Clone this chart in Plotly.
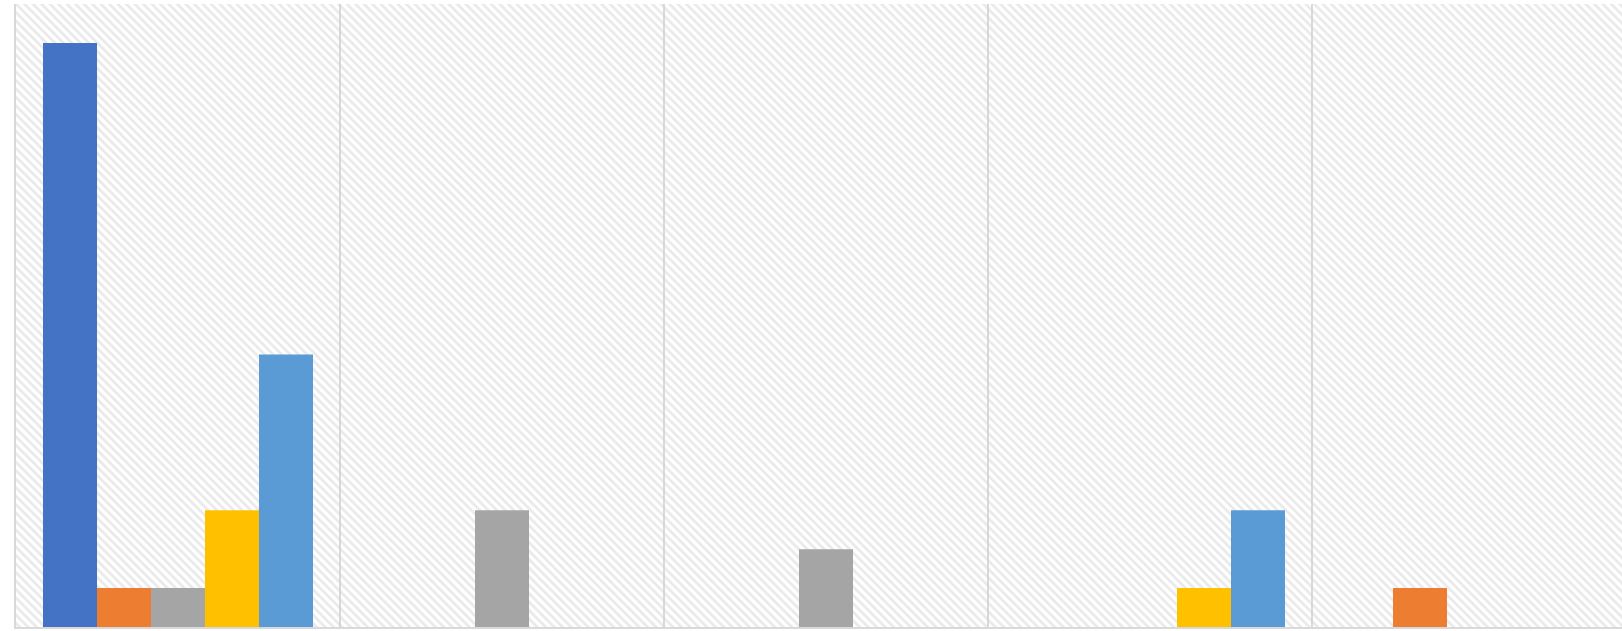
# Grouped bars over a hatched plot background

import plotly.graph_objects as go

# -------------------------------
# 1. Data
# -------------------------------
categories = ["Category 1", "Category 2", "Category 3", "Category 4", "Category 5"]

series_names = ["Series 1", "Series 2", "Series 3", "Series 4", "Series 5"]
series_1 = [15, 0, 0, 0, 0]
series_2 = [1, 0, 0, 0, 1]
series_3 = [1, 3, 2, 0, 0]
series_4 = [3, 0, 0, 1, 0]
series_5 = [7, 0, 0, 3, 0]

colors = ["#4472C4", "#ED7D31", "#A5A5A5", "#FFC000", "#5B9BD5"]

y_max = 16

# -------------------------------
# 2. Figure
# -------------------------------
x_pos = list(range(len(categories)))
fig = go.Figure()

# hatched background, one full-width bar per category
fig.add_trace(go.Bar(
    x=x_pos,
    y=[y_max * 1.5] * len(categories),
    width=1,
    offset=-0.5,
    marker=dict(
        color="rgba(0,0,0,0)",
        line=dict(width=0),
        pattern=dict(shape="\\", size=6, solidity=0.45,
                     fgcolor="#D4D4D4", bgcolor="rgba(0,0,0,0)"),
    ),
    hoverinfo="skip",
    showlegend=False,
))

all_series = [series_1, series_2, series_3, series_4, series_5]
n = len(all_series)
bar_w = 1 / (n + 1)
for i, (name, vals, col) in enumerate(zip(series_names, all_series, colors)):
    fig.add_trace(go.Bar(
        x=x_pos,
        y=vals,
        name=name,
        width=bar_w,
        offset=-n * bar_w / 2 + i * bar_w,
        marker=dict(color=col, line=dict(width=0)),
    ))

fig.update_layout(
    barmode="overlay",
    width=1622,
    height=631,
    margin=dict(l=16, r=0, t=4, b=4),
    paper_bgcolor="white",
    plot_bgcolor="white",
    showlegend=False,
    xaxis=dict(
        range=[-0.5, -0.5 + 1606 / 324],
        tick0=0.5, dtick=1,
        showgrid=True, gridcolor="#D9D9D9", gridwidth=2,
        showticklabels=False, ticks="",
        zeroline=False,
        showline=True, linecolor="#D9D9D9", linewidth=2,
    ),
    yaxis=dict(
        range=[0, y_max],
        showgrid=False, showticklabels=False, ticks="",
        zeroline=False,
        showline=True, linecolor="#D9D9D9", linewidth=2,
    ),
)

# page has a default body margin; drop it so the figure sits at 0,0
fig.write_html("out.html", config={"displayModeBar": False},
               post_script="document.body.style.margin='0';")
